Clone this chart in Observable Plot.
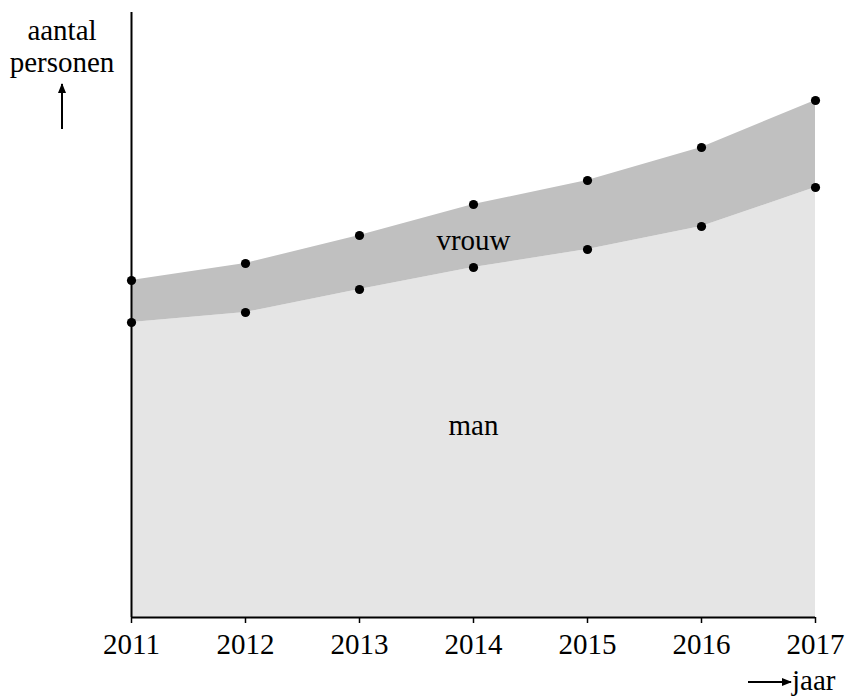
<!DOCTYPE html>
<html>
<head>
<meta charset="utf-8">
<script src="https://cdn.jsdelivr.net/npm/d3@7"></script>
<script src="https://cdn.jsdelivr.net/npm/@observablehq/plot@0.6"></script>
<style>
  html, body { margin: 0; padding: 0; background: #fff; }
  #chart svg { display: block; }
</style>
</head>
<body>
<div id="chart"></div>
<script>
const years = [2011, 2012, 2013, 2014, 2015, 2016, 2017];
const man   = [295, 305, 328, 350, 368, 391, 430];
const vrouw = [42, 49, 54, 63, 69, 79, 87];
const tickLabels = ["2011", "2012", "2013", "2014", "2015", "2016", "2017"];

const data = years.map((y, i) => ({year: y, man: man[i], total: man[i] + vrouw[i]}));
const font = "'Liberation Serif', 'Times New Roman', serif";
const fs = 29;

const chart = Plot.plot({
  width: 845,
  height: 697,
  marginLeft: 131,
  marginRight: 30,
  marginTop: 12,
  marginBottom: 80,
  style: {fontFamily: font, fontSize: fs + "px", color: "#000", background: "#fff", overflow: "visible"},
  x: {domain: [2011, 2017]},
  y: {domain: [0, 605], axis: null},
  marks: [
    Plot.areaY(data, {x: "year", y1: 0, y2: "man", fill: "#e5e5e5"}),
    Plot.areaY(data, {x: "year", y1: "man", y2: "total", fill: "#c0c0c0"}),
    Plot.ruleY([0], {stroke: "#000", strokeWidth: 2}),
    Plot.ruleX([2011], {stroke: "#000", strokeWidth: 2}),
    Plot.axisX({ticks: years, tickFormat: (d, i) => tickLabels[i], tickSize: 6, tickPadding: 10, strokeWidth: 1.5, fontSize: fs, label: null}),
    Plot.dot(data, {x: "year", y: "man", r: 4.6, fill: "#000"}),
    Plot.dot(data, {x: "year", y: "total", r: 4.6, fill: "#000"}),
    Plot.text(["vrouw"], {x: 2014, y: 377, text: d => d, fontSize: fs, fill: "#000"}),
    Plot.text(["man"], {x: 2014, y: 192, text: d => d, fontSize: fs, fill: "#000"})
  ]
});

const svg = d3.select(chart);
svg.append("defs").append("marker")
  .attr("id", "ah").attr("viewBox", "0 0 10 10").attr("refX", 9).attr("refY", 5)
  .attr("markerWidth", 10).attr("markerHeight", 10).attr("markerUnits", "userSpaceOnUse")
  .attr("orient", "auto")
  .append("path").attr("d", "M0,1 L10,5 L0,9 Z").attr("fill", "#000");

const ann = svg.append("g").attr("font-family", font).attr("font-size", fs).attr("fill", "#000");
ann.append("text").attr("x", 62).attr("y", 40).attr("text-anchor", "middle").text("aantal");
ann.append("text").attr("x", 62).attr("y", 72).attr("text-anchor", "middle").text("personen");
ann.append("line").attr("x1", 62).attr("y1", 129).attr("x2", 62).attr("y2", 84)
  .attr("stroke", "#000").attr("stroke-width", 2).attr("marker-end", "url(#ah)");
ann.append("line").attr("x1", 748).attr("y1", 682).attr("x2", 791).attr("y2", 682)
  .attr("stroke", "#000").attr("stroke-width", 2).attr("marker-end", "url(#ah)");
ann.append("text").attr("x", 792).attr("y", 690).attr("text-anchor", "start").text("jaar");

document.getElementById("chart").appendChild(chart);
</script>
</body>
</html>
